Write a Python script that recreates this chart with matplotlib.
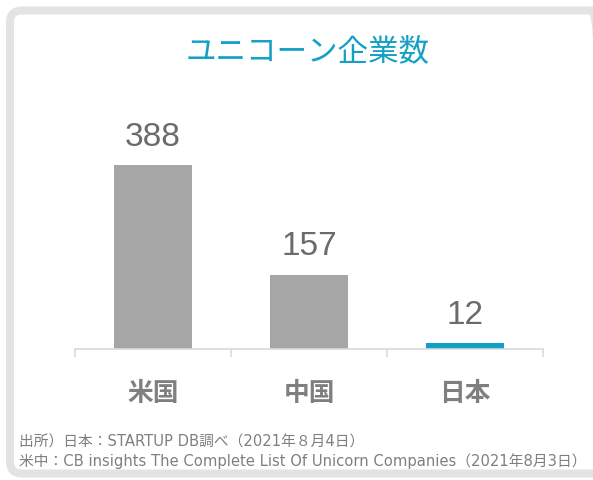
import matplotlib
matplotlib.use('Agg')
import matplotlib.pyplot as plt
from matplotlib.patches import FancyBboxPatch
from matplotlib.transforms import IdentityTransform

# data
countries = ['米国', '中国', '日本']
unicorns = [388, 157, 12]
bar_colors = ['#a6a6a6', '#a6a6a6', '#0ea0c6']
title = 'ユニコーン企業数'
source_lines = ['出所）日本：STARTUP DB調べ（2021年８月4日）',
                '米中：CB insights The Complete List Of Unicorn Companies（2021年8月3日）']

plt.rcParams['font.family'] = ['Noto Sans CJK JP', 'DejaVu Sans']

fig = plt.figure(figsize=(5.93, 4.80), dpi=100)

# light grey rounded frame around the card
frame = FancyBboxPatch((10, 6.5), 594, 463, boxstyle='round,pad=0,rounding_size=12',
                       transform=IdentityTransform(), facecolor='none',
                       edgecolor='#e3e3e3', linewidth=5.8, zorder=0)
fig.patches.append(frame)

ax = fig.add_axes([75 / 593, 131 / 480, 468 / 593, 239 / 480])
ax.patch.set_alpha(0)

x = range(len(countries))
bars = ax.bar(x, unicorns, width=0.5, color=bar_colors)
ax.set_xlim(-0.5, 2.5)
ax.set_ylim(0, 504)

for b, v in zip(bars, unicorns):
    ax.annotate(str(v), (b.get_x() + b.get_width() / 2, v), xytext=(0, 9),
                textcoords='offset points', ha='center', va='bottom',
                fontsize=24, color='#6b6b6b', family='Liberation Sans')

for s in ['top', 'right', 'left']:
    ax.spines[s].set_visible(False)
ax.spines['bottom'].set_color('#d9d9d9')
ax.spines['bottom'].set_linewidth(1.2)
ax.set_yticks([])

ax.set_xticks(list(x))
ax.set_xticklabels(countries, fontsize=18.5, fontweight='bold', color='#7f7f7f')
ax.tick_params(axis='x', which='major', length=0, pad=22)
ax.set_xticks([-0.5, 0.5, 1.5, 2.5], minor=True)
ax.tick_params(axis='x', which='minor', length=6, width=1.2, color='#d9d9d9', direction='out')

fig.text(308 / 593, 1 - 52 / 480, title, ha='center', va='center',
         fontsize=22, color='#12a0c6')

src_font = ['DejaVu Sans', 'Noto Sans CJK JP']
fig.text(19 / 593, 1 - 442 / 480, source_lines[0], ha='left', va='center',
         fontsize=10.6, color='#7f7f7f', family=src_font)
fig.text(19 / 593, 1 - 461 / 480, source_lines[1], ha='left', va='center',
         fontsize=10.6, color='#7f7f7f', family=src_font)

fig.savefig('out.png', dpi=100)
